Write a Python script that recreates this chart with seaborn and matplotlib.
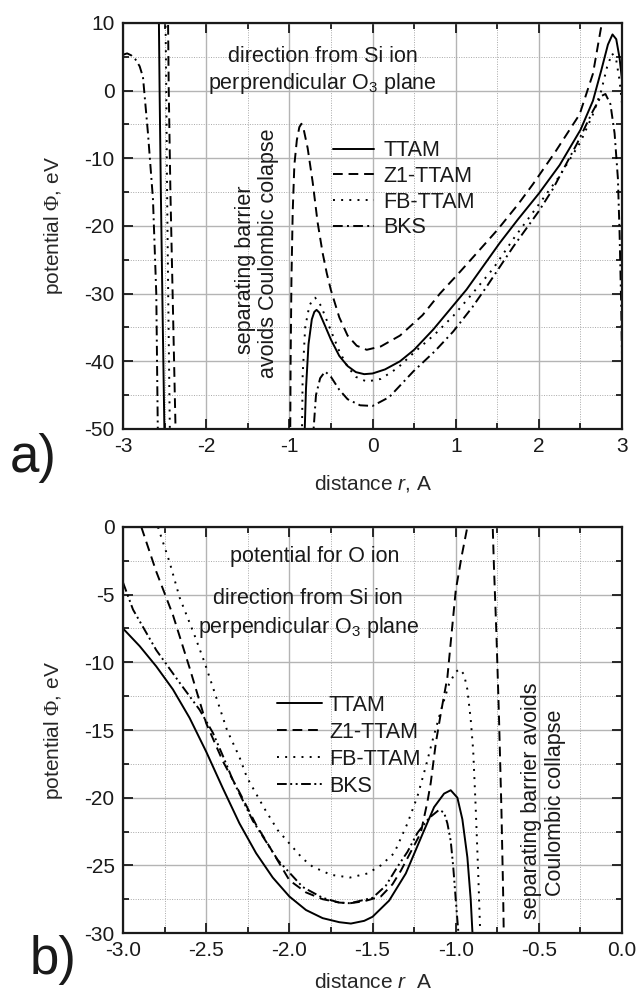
import numpy as np
import pandas as pd
import matplotlib
matplotlib.use("Agg")
import matplotlib.pyplot as plt
import seaborn as sns
from matplotlib.ticker import MultipleLocator

# ---- panel a) : potential along direction from Si ion ----
a_ttam_l_x = [-2.57, -2.56, -2.545, -2.525, -2.50]
a_ttam_l_y = [12, 0, -15, -32, -52]
a_ttam_x = [-0.82, -0.80, -0.77, -0.73, -0.70, -0.673, -0.64, -0.58, -0.5, -0.4, -0.3, -0.2, -0.1, 0.0,
            0.15, 0.33, 0.5, 0.73, 1.13, 1.53, 1.75, 2.0, 2.25, 2.5, 2.65, 2.75, 2.83, 2.885, 2.93,
            2.97, 3.0]
a_ttam_y = [-52, -44, -37.5, -33.8, -32.7, -32.4, -32.8, -34.5, -36.8, -39.2, -40.7, -41.6, -41.9, -41.8,
            -41.2, -40.0, -38.3, -35.3, -29.4, -22.5, -19.0, -15.2, -11.0, -5.8, -1.5, 3.0, 6.8, 8.3,
            7.6, 4.8, 1.5]

a_z1_l_x = [-2.46, -2.45, -2.43, -2.40, -2.365]
a_z1_l_y = [12, 0, -15, -32, -52]
a_z1_x = [-0.99, -0.985, -0.975, -0.96, -0.94, -0.91, -0.88, -0.855, -0.83, -0.78, -0.72, -0.66, -0.6,
          -0.55, -0.5, -0.4, -0.3, -0.19, -0.07, 0.1, 0.33, 0.6, 0.81, 1.05, 1.29, 1.5, 1.75, 1.93, 2.2,
          2.49, 2.65, 2.75, 2.8]
a_z1_y = [-52, -40, -28, -18, -11, -7.3, -5.4, -4.9, -5.6, -8.5, -13.5, -19.5, -24.0, -27.0, -29.5,
          -33.5, -36.2, -37.7, -38.3, -37.8, -36.2, -33.2, -30.0, -26.8, -23.5, -20.6, -16.8, -13.8,
          -9.0, -3.5, 2.5, 9.5, 13]

a_fb_l_x = [-2.49, -2.48, -2.47, -2.455, -2.435]
a_fb_l_y = [12, 0, -15, -32, -52]
a_fb_x = [-0.85, -0.84, -0.81, -0.76, -0.72, -0.69, -0.62, -0.5, -0.4, -0.3, -0.2, -0.07, 0.1, 0.3, 0.49,
          0.75, 0.97, 1.2, 1.45, 1.7, 2.0, 2.25, 2.5, 2.65, 2.75, 2.82, 2.88, 2.93, 2.97, 3.0]
a_fb_y = [-52, -42, -35, -31.8, -30.9, -30.6, -31.8, -35.5, -38.5, -40.8, -42.3, -43.0, -42.6, -41.0,
          -38.8, -36.0, -33.3, -30.0, -26.3, -21.8, -16.8, -12.6, -7.6, -3.5, 0.0, 3.5, 5.5, 4.5, 1.5, -2]

a_bks_l_x = [-3.0, -2.95, -2.9, -2.85, -2.8, -2.76, -2.70, -2.64, -2.60, -2.58]
a_bks_l_y = [5.3, 5.5, 5.2, 4.6, 3.6, 2.0, -6.3, -16.0, -30.0, -52]
a_bks_x = [-0.72, -0.68, -0.63, -0.57, -0.5, -0.4, -0.3, -0.15, 0.0, 0.2, 0.49, 0.75, 0.97, 1.2, 1.37,
           1.69, 2.0, 2.17, 2.46, 2.65, 2.75, 2.8, 2.86, 2.91, 2.95, 2.97, 2.99, 3.0]
a_bks_y = [-52, -45, -42.5, -41.5, -42.3, -44.2, -45.6, -46.5, -46.6, -45.3, -41.5, -38.5, -35.6, -32.0,
           -29.0, -23.1, -17.8, -14.5, -7.8, -3.0, -0.8, -0.5, -2.0, -6.3, -13.0, -21.0, -32.0, -40.0]

# ---- panel b) : potential for O ion ----
b_ttam_x = [-3.0, -2.9, -2.8, -2.7, -2.6, -2.5, -2.4, -2.3, -2.2, -2.1, -2.0, -1.9, -1.8, -1.7, -1.63,
            -1.55, -1.5, -1.4, -1.3, -1.2, -1.13, -1.07, -1.03, -0.99, -0.96, -0.93, -0.91, -0.895]
b_ttam_y = [-7.5, -8.8, -10.3, -12.0, -14.1, -16.6, -19.3, -21.9, -24.1, -25.9, -27.3, -28.3, -28.9,
            -29.2, -29.3, -29.1, -28.8, -27.6, -25.6, -22.7, -20.7, -19.7, -19.45, -20.0, -21.6, -24.4,
            -27.5, -31]

b_z1_x = [-2.89, -2.8, -2.7, -2.6, -2.5, -2.4, -2.3, -2.2, -2.13, -2.0, -1.9, -1.8, -1.7, -1.635, -1.55,
          -1.45, -1.38, -1.33, -1.27, -1.21, -1.17, -1.15, -1.12, -1.09, -1.05, -1.0, -0.965, -0.93, -0.92]
b_z1_y = [0, -3.3, -6.5, -10.4, -14.5, -17.3, -19.6, -22.0, -23.4, -26.1, -27.0, -27.5, -27.75, -27.8,
          -27.65, -27.3, -26.4, -25.4, -24.0, -22.6, -20.3, -18.9, -16.0, -13.8, -11.1, -4.7, -2.2, 0, 1]
b_z1_r_x = [-0.78, -0.77, -0.755, -0.74, -0.725, -0.715, -0.71]
b_z1_r_y = [1, -3, -8, -14, -21, -27, -31]

b_fb_x = [-2.79, -2.72, -2.66, -2.57, -2.51, -2.45, -2.375, -2.3, -2.255, -2.15, -2.07, -1.92, -1.86,
          -1.75, -1.635, -1.53, -1.45, -1.37, -1.29, -1.23, -1.18, -1.14, -1.09, -1.04, -1.0, -0.975,
          -0.95, -0.93, -0.91, -0.895, -0.88, -0.865, -0.85]
b_fb_y = [0, -2.6, -5.2, -8.0, -10.0, -12.2, -15.0, -17.0, -18.5, -20.8, -22.4, -24.5, -25.1, -25.7,
          -25.9, -25.6, -25.0, -24.1, -21.9, -19.9, -17.7, -15.8, -13.6, -11.6, -10.7, -10.5, -10.9,
          -12.0, -14.2, -16.5, -20.7, -25.5, -31]

b_bks_x = [-3.0, -2.94, -2.87, -2.80, -2.73, -2.66, -2.54, -2.46, -2.4, -2.34, -2.22, -2.07, -1.92, -1.8,
           -1.7, -1.635, -1.5, -1.42, -1.35, -1.29, -1.23, -1.16, -1.1, -1.07, -1.05, -1.03, -1.015,
           -1.0, -0.985, -0.98]
b_bks_y = [-4.1, -6.1, -7.6, -9.1, -10.3, -11.5, -13.5, -15.2, -16.9, -18.7, -21.7, -24.6, -26.6, -27.4,
           -27.75, -27.8, -27.4, -26.5, -25.1, -24.0, -22.6, -21.5, -20.9, -21.1, -21.9, -23.2, -25.1,
           -27.5, -29.8, -31]

labels = ["TTAM", "Z1-TTAM", "FB-TTAM", "BKS"]

sns.set_style("ticks")
plt.rcParams["font.family"] = ["Liberation Sans", "DejaVu Sans"]
plt.rcParams["mathtext.fontset"] = "custom"
plt.rcParams["mathtext.rm"] = "Liberation Serif"
plt.rcParams["mathtext.it"] = "Liberation Sans:italic"
plt.rcParams["mathtext.sf"] = "Liberation Sans"
plt.rcParams["axes.unicode_minus"] = False
plt.rcParams["text.color"] = "#1a1a1a"

LW = 1.4
solid = "-"
dashed = (0, (5, 3))
dotted = (0, (1, 3.2))
dashdot = (0, (5, 2.2, 1, 2.2))
dashdotdot = (0, (5, 1.8, 1, 1.8, 1, 1.8))

fig = plt.figure(figsize=(6.39, 9.93), dpi=100)
ax1 = fig.add_axes([0.1925, 0.568, 0.781, 0.4089])
ax2 = fig.add_axes([0.1925, 0.0604, 0.781, 0.4089])


def line(ax, xs, ys, ls, label=None):
    sns.lineplot(x=xs, y=ys, ax=ax, color="k", lw=LW, linestyle=ls, sort=False,
                 estimator=None, label=label, legend=False)


def style(ax, xmaj, xmin, ymaj, ymin):
    ax.xaxis.set_major_locator(MultipleLocator(xmaj))
    ax.xaxis.set_minor_locator(MultipleLocator(xmin))
    ax.yaxis.set_major_locator(MultipleLocator(ymaj))
    ax.yaxis.set_minor_locator(MultipleLocator(ymin))
    ax.grid(which="major", color="#b4b4b4", lw=1.0, ls="-")
    ax.grid(which="minor", color="#a8a8a8", lw=0.7, ls=(0, (1, 1.5)))
    ax.set_axisbelow(True)
    ax.tick_params(which="both", direction="in", top=True, right=True, width=1.3,
                   colors="#1a1a1a", labelsize=15)
    ax.tick_params(which="major", length=7, pad=6)
    ax.tick_params(which="minor", length=4)
    for s in ax.spines.values():
        s.set_linewidth(1.6)
        s.set_color("#1a1a1a")


# panel a
line(ax1, a_ttam_x, a_ttam_y, solid, labels[0])
line(ax1, a_z1_x, a_z1_y, dashed, labels[1])
line(ax1, a_fb_x, a_fb_y, dotted, labels[2])
line(ax1, a_bks_x, a_bks_y, dashdot, labels[3])
line(ax1, a_ttam_l_x, a_ttam_l_y, solid)
line(ax1, a_z1_l_x, a_z1_l_y, dashed)
line(ax1, a_fb_l_x, a_fb_l_y, dotted)
line(ax1, a_bks_l_x, a_bks_l_y, dashdot)
ax1.set_xlim(-3, 3)
ax1.set_ylim(-50, 10)
style(ax1, 1, 0.5, 10, 5)
ax1.set_xlabel("distance $r$, A", fontsize=15, labelpad=12)
ax1.set_ylabel("potential $\\Phi$, eV", fontsize=15, labelpad=14)
ax1.legend(loc="upper left", bbox_to_anchor=(0.421, 0.711), frameon=False, fontsize=15.5,
           handlelength=1.9, handletextpad=0.45, labelspacing=0.22, borderpad=0, borderaxespad=0)
ax1.text(-0.6, 5.0, "direction from Si ion", ha="center", va="center", fontsize=15.5)
ax1.text(-0.6, 1.1, "perprendicular O$_\\mathsf{3}$ plane", ha="center", va="center", fontsize=15.5)
ax1.text(-1.53, -26.5, "separating barrier", rotation=90, ha="center", va="center", fontsize=15.5)
ax1.text(-1.255, -24.1, "avoids Coulombic colapse", rotation=90, ha="center", va="center",
         fontsize=15.5)

# panel b
line(ax2, b_ttam_x, b_ttam_y, solid, labels[0])
line(ax2, b_z1_x, b_z1_y, dashed, labels[1])
line(ax2, b_fb_x, b_fb_y, dotted, labels[2])
line(ax2, b_bks_x, b_bks_y, dashdotdot, labels[3])
line(ax2, b_z1_r_x, b_z1_r_y, dashed)
ax2.set_xlim(-3, 0)
ax2.set_ylim(-30, 0)
style(ax2, 0.5, 0.25, 5, 2.5)
ax2.set_xlabel("distance $r$  A", fontsize=15, labelpad=9)
ax2.set_ylabel("potential $\\Phi$, eV", fontsize=15, labelpad=14)
ax2.legend(loc="upper left", bbox_to_anchor=(0.309, 0.587), frameon=False, fontsize=15.5,
           handlelength=2.1, handletextpad=0.3, labelspacing=0.28, borderpad=0, borderaxespad=0)
ax2.text(-1.85, -2.2, "potential for O ion", ha="center", va="center", fontsize=15.5)
ax2.text(-1.89, -5.3, "direction from Si ion", ha="center", va="center", fontsize=15.5)
ax2.text(-1.88, -7.4, "perpendicular O$_\\mathsf{3}$ plane", ha="center", va="center", fontsize=15.5)
ax2.text(-0.547, -20.25, "separating barrier avoids", rotation=90, ha="center", va="center",
         fontsize=15.5)
ax2.text(-0.40, -20.4, "Coulombic collapse", rotation=90, ha="center", va="center", fontsize=15.5)

fig.text(0.052, 0.539, "a)", fontsize=38, ha="center", va="center")
fig.text(0.083, 0.033, "b)", fontsize=38, ha="center", va="center")

fig.savefig("out.png", dpi=100)
